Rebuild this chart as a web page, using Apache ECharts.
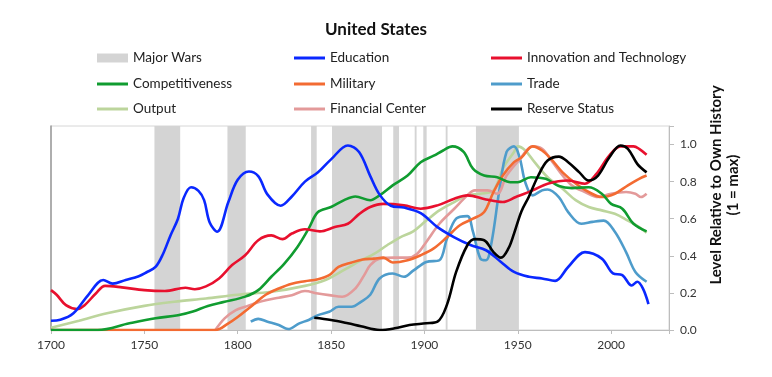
<!DOCTYPE html>
<html>
<head>
<meta charset="utf-8">
<script src="https://cdn.jsdelivr.net/npm/echarts@6/dist/echarts.min.js"></script>
<style>
  html, body { margin: 0; padding: 0; background: #fff; }
  #chart { width: 772px; height: 377px; }
</style>
</head>
<body>
<div id="chart"></div>
<script>
  // values: [year, level]
  var wars = [[1755.4, 1769.2], [1794.5, 1804.3], [1839.3, 1842.3], [1850.5, 1877.3], [1883.3, 1886.4],
    [1894.8, 1895.8], [1899.4, 1901.2], [1911.4, 1912.4], [1927.6, 1950.6]]

  var education = [[1700, 0.05], [1705, 0.055], [1712, 0.09], [1720, 0.19], [1728, 0.27], [1733, 0.25], [1740, 0.27],
    [1747, 0.29], [1751, 0.31], [1756, 0.34], [1760, 0.41], [1764, 0.51], [1768, 0.60], [1771, 0.71], [1775, 0.77],
    [1779, 0.75], [1782, 0.70], [1785, 0.58], [1789, 0.53], [1795, 0.69], [1800, 0.81], [1806, 0.855], [1811, 0.83],
    [1816, 0.73], [1823, 0.67], [1829, 0.72], [1836, 0.80], [1843, 0.85], [1850, 0.92], [1859, 0.995], [1865, 0.96],
    [1871, 0.83], [1876, 0.73], [1882, 0.67], [1889, 0.66], [1898, 0.63], [1907, 0.555], [1916, 0.50], [1925, 0.457],
    [1933, 0.43], [1941, 0.367], [1948, 0.313], [1956, 0.287], [1963, 0.278], [1970, 0.265], [1977, 0.34], [1986, 0.42],
    [1995, 0.385], [2001, 0.305], [2006, 0.296], [2011, 0.24], [2014, 0.26], [2017, 0.224], [2020, 0.14]]

  var innovation = [[1700, 0.215], [1703, 0.19], [1708, 0.134], [1714, 0.113], [1718, 0.134], [1724, 0.197],
    [1729, 0.238], [1738, 0.23], [1750, 0.215], [1761, 0.21], [1772, 0.228], [1777, 0.22], [1783, 0.235], [1790, 0.278],
    [1797, 0.35], [1804, 0.403], [1811, 0.484], [1818, 0.51], [1824, 0.49], [1829, 0.52], [1836, 0.543], [1844, 0.532],
    [1852, 0.555], [1859, 0.573], [1865, 0.625], [1871, 0.663], [1878, 0.68], [1889, 0.672], [1898, 0.654],
    [1907, 0.672], [1916, 0.708], [1923, 0.726], [1933, 0.704], [1942, 0.69], [1949, 0.717], [1958, 0.753],
    [1966, 0.789], [1977, 0.806], [1986, 0.789], [1992, 0.84], [1999, 0.94], [2005, 0.99], [2012, 0.99], [2015, 0.977],
    [2019, 0.945]]

  var competitiveness = [[1700, 0], [1725, 0], [1742, 0.036], [1756, 0.063], [1768, 0.08], [1776, 0.10], [1784, 0.13],
    [1793, 0.152], [1804, 0.18], [1811, 0.215], [1818, 0.287], [1825, 0.358], [1832, 0.448], [1838, 0.547],
    [1843, 0.636], [1850, 0.663], [1857, 0.70], [1863, 0.72], [1871, 0.70], [1876, 0.726], [1883, 0.78], [1891, 0.833],
    [1898, 0.905], [1905, 0.94], [1910, 0.968], [1915, 0.99], [1921, 0.96], [1926, 0.87], [1932, 0.833], [1939, 0.824],
    [1946, 0.797], [1950, 0.797], [1957, 0.824], [1965, 0.815], [1972, 0.776], [1979, 0.765], [1988, 0.77],
    [1995, 0.735], [2000, 0.68], [2006, 0.654], [2012, 0.573], [2019, 0.532]]

  var military = [[1700, 0], [1788, 0], [1795, 0.036], [1800, 0.07], [1808, 0.134], [1815, 0.19], [1822, 0.224],
    [1829, 0.25], [1836, 0.263], [1843, 0.274], [1849, 0.296], [1854, 0.34], [1861, 0.364], [1867, 0.38], [1873, 0.385],
    [1878, 0.39], [1883, 0.364], [1891, 0.376], [1898, 0.403], [1905, 0.44], [1912, 0.50], [1919, 0.565], [1926, 0.60],
    [1932, 0.636], [1937, 0.744], [1942, 0.833], [1948, 0.905], [1952, 0.93], [1958, 0.99], [1963, 0.968], [1968, 0.92],
    [1974, 0.85], [1981, 0.79], [1988, 0.744], [1995, 0.717], [2002, 0.735], [2009, 0.78], [2015, 0.815], [2019, 0.833]]

  var trade = [[1807, 0.045], [1811, 0.06], [1816, 0.045], [1822, 0.027], [1827, 0.005], [1833, 0.036], [1838, 0.054],
    [1843, 0.08], [1849, 0.098], [1854, 0.125], [1861, 0.125], [1866, 0.152], [1871, 0.19], [1876, 0.278], [1883, 0.305],
    [1889, 0.287], [1894, 0.32], [1901, 0.367], [1908, 0.376], [1912, 0.49], [1917, 0.60], [1923, 0.614], [1926, 0.53],
    [1930, 0.385], [1933, 0.376], [1936, 0.475], [1940, 0.744], [1944, 0.96], [1948, 0.99], [1951, 0.93], [1954, 0.797],
    [1958, 0.726], [1963, 0.753], [1966, 0.758], [1972, 0.717], [1977, 0.636], [1984, 0.573], [1990, 0.583],
    [1996, 0.59], [2002, 0.53], [2008, 0.42], [2013, 0.313], [2019, 0.26]]

  var output = [[1700, 0.012], [1715, 0.05], [1730, 0.09], [1750, 0.13], [1766, 0.152], [1783, 0.17], [1800, 0.19],
    [1818, 0.206], [1836, 0.238], [1847, 0.27], [1858, 0.33], [1866, 0.375], [1873, 0.41], [1880, 0.457], [1887, 0.50],
    [1894, 0.532], [1901, 0.59], [1908, 0.645], [1916, 0.69], [1923, 0.726], [1930, 0.735], [1937, 0.753], [1942, 0.87],
    [1948, 0.96], [1950, 0.99], [1954, 0.968], [1959, 0.905], [1966, 0.824], [1974, 0.762], [1981, 0.70], [1988, 0.663],
    [1995, 0.645], [2002, 0.627], [2009, 0.59], [2015, 0.555], [2019, 0.525]]

  var financial = [[1788, 0], [1793, 0.063], [1799, 0.107], [1804, 0.125], [1809, 0.143], [1815, 0.16], [1822, 0.174],
    [1829, 0.188], [1836, 0.21], [1843, 0.197], [1849, 0.188], [1856, 0.179], [1863, 0.224], [1868, 0.30], [1871, 0.35],
    [1876, 0.385], [1884, 0.39], [1891, 0.39], [1896, 0.41], [1901, 0.475], [1908, 0.573], [1916, 0.654], [1923, 0.726],
    [1927, 0.753], [1934, 0.753], [1939, 0.735], [1944, 0.833], [1951, 0.92], [1958, 0.99], [1963, 0.977], [1968, 0.914],
    [1974, 0.833], [1979, 0.78], [1986, 0.744], [1993, 0.717], [2000, 0.735], [2008, 0.744], [2013, 0.735],
    [2016, 0.717], [2019, 0.735]]

  var reserve = [[1841, 0.066], [1850, 0.054], [1859, 0.036], [1866, 0.02], [1876, 0.0], [1884, 0.009], [1892, 0.027],
    [1901, 0.036], [1907, 0.045], [1912, 0.134], [1917, 0.313], [1923, 0.457], [1927, 0.49], [1932, 0.484], [1937, 0.42],
    [1941, 0.39], [1945, 0.44], [1948, 0.52], [1952, 0.64], [1956, 0.72], [1961, 0.833], [1966, 0.914], [1972, 0.935],
    [1977, 0.905], [1983, 0.85], [1988, 0.806], [1993, 0.833], [1999, 0.93], [2005, 0.995], [2009, 0.977],
    [2014, 0.896], [2019, 0.85]]

  var FONT = 'Lato'
  var colors = {
    'Major Wars': '#d4d4d4',
    'Education': '#0a28ff',
    'Innovation and Technology': '#e8102e',
    'Competitiveness': '#109c30',
    'Military': '#f36b32',
    'Trade': '#4e9ccb',
    'Output': '#bcd59c',
    'Financial Center': '#e39a9a',
    'Reserve Status': '#000000'
  }

  // legend grid: 3 columns x 3 rows
  var legendCells = [
    ['Major Wars', 97, 59], ['Education', 294, 59], ['Innovation and Technology', 491, 59],
    ['Competitiveness', 97, 85], ['Military', 294, 85], ['Trade', 491, 85],
    ['Output', 97, 110], ['Financial Center', 294, 110], ['Reserve Status', 491, 110]
  ]

  function lineSeries(name, data) {
    return {
      name: name,
      type: 'line',
      data: data,
      smooth: 0.35,
      showSymbol: false,
      symbol: 'none',
      lineStyle: { width: 2.6, color: colors[name] },
      itemStyle: { color: colors[name] },
      emphasis: { disabled: true }
    }
  }

  var chart = echarts.init(document.getElementById('chart'))
  chart.setOption({
    animation: false,
    title: {
      text: 'United States',
      left: 371,
      top: 16,
      textAlign: 'center',
      textStyle: { fontFamily: FONT, fontSize: 17, fontWeight: 'bold', color: '#111' }
    },
    legend: legendCells.map(function (c) {
      var isWar = c[0] === 'Major Wars'
      return {
        data: [{ name: c[0], icon: 'rect' }],
        left: c[1],
        top: c[2] - 8,
        padding: 0,
        itemWidth: 31,
        itemHeight: isWar ? 9 : 3,
        textStyle: { fontFamily: FONT, fontSize: 13.5, color: '#222' },
        selectedMode: false
      }
    }),
    grid: {
      left: 51,
      right: 103,
      top: 126,
      bottom: 47,
      show: true,
      borderColor: '#d6d6d6',
      borderWidth: 1
    },
    xAxis: {
      type: 'value',
      min: 1700,
      max: 2031,
      interval: 50,
      splitLine: { show: false },
      axisLine: { lineStyle: { color: '#bdbdbd' } },
      axisTick: { length: 4, lineStyle: { color: '#bdbdbd' } },
      axisLabel: {
        margin: 9,
        fontFamily: FONT,
        fontSize: 12,
        color: '#333',
        formatter: function (v) { return v % 50 === 0 ? String(v) : '' }
      }
    },
    yAxis: [
      {
        type: 'value',
        position: 'right',
        min: 0,
        max: 1.1,
        interval: 0.2,
        splitLine: { show: false },
        axisLine: { show: true, lineStyle: { color: '#bdbdbd' } },
        axisTick: { show: true, length: 5, lineStyle: { color: '#bdbdbd' } },
        axisLabel: {
          margin: 11,
          fontFamily: FONT,
          fontSize: 12,
          color: '#333',
          formatter: function (v) { return v > 1.05 ? '' : v.toFixed(1) }
        }
      },
      {
        type: 'value',
        position: 'left',
        min: 0,
        max: 1.1,
        splitLine: { show: false },
        axisLine: { show: true, lineStyle: { color: '#9a9a9a', width: 1.5 } },
        axisTick: { show: false },
        axisLabel: { show: false }
      }
    ],
    graphic: [
      {
        type: 'text',
        x: 716,
        y: 185,
        rotation: Math.PI / 2,
        style: {
          text: 'Level Relative to Own History',
          fontFamily: FONT,
          fontSize: 15,
          fontWeight: 'bold',
          fill: '#111',
          align: 'center',
          verticalAlign: 'middle'
        }
      },
      {
        type: 'text',
        x: 733,
        y: 185,
        rotation: Math.PI / 2,
        style: {
          text: '(1 = max)',
          fontFamily: FONT,
          fontSize: 15,
          fontWeight: 'bold',
          fill: '#111',
          align: 'center',
          verticalAlign: 'middle'
        }
      }
    ],
    series: [
      {
        name: 'Major Wars',
        type: 'line',
        data: [],
        itemStyle: { color: colors['Major Wars'] },
        lineStyle: { color: colors['Major Wars'] },
        markArea: {
          silent: true,
          itemStyle: { color: colors['Major Wars'], opacity: 1 },
          data: wars.map(function (w) { return [{ xAxis: w[0] }, { xAxis: w[1] }] })
        }
      },
      lineSeries('Output', output),
      lineSeries('Trade', trade),
      lineSeries('Financial Center', financial),
      lineSeries('Military', military),
      lineSeries('Competitiveness', competitiveness),
      lineSeries('Innovation and Technology', innovation),
      lineSeries('Education', education),
      lineSeries('Reserve Status', reserve)
    ]
  })
</script>
</body>
</html>
